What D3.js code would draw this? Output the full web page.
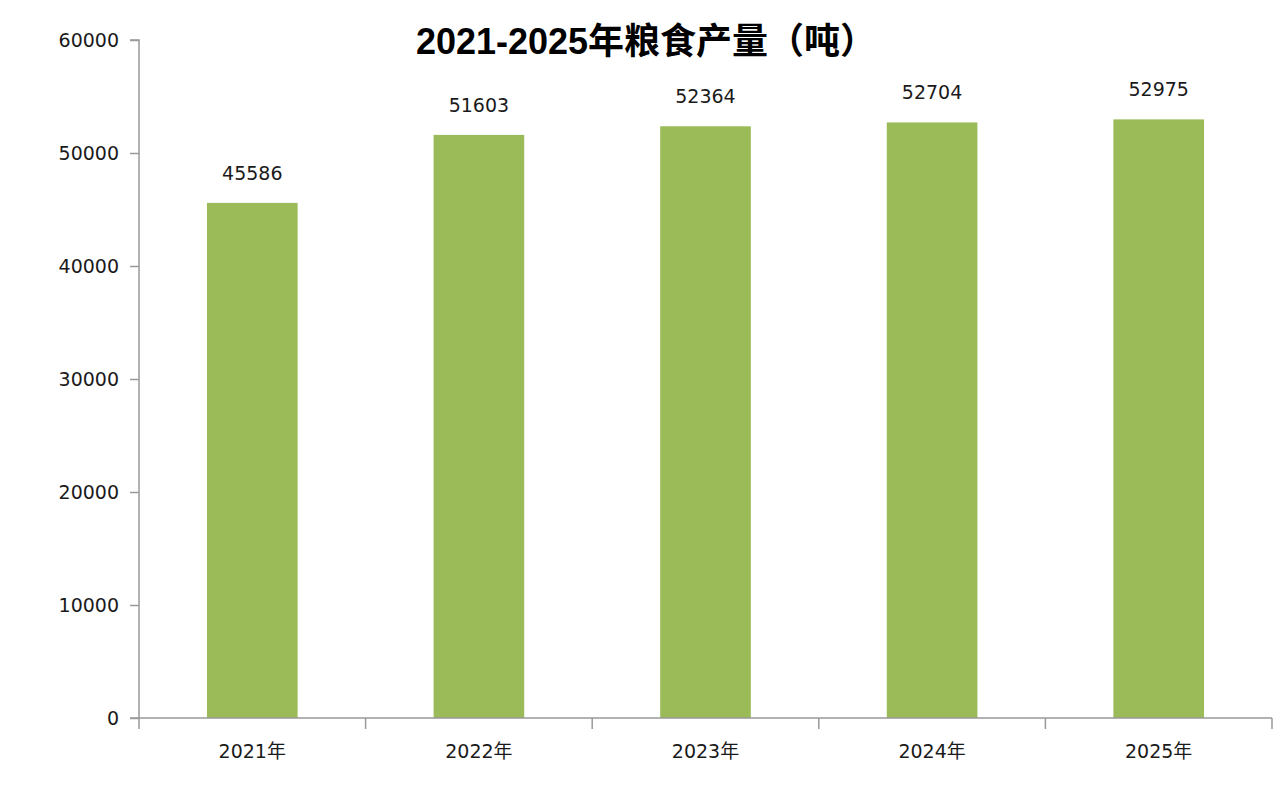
<!DOCTYPE html>
<html lang="zh">
    <head>
        <meta charset="utf-8">
        <title>2021-2025年粮食产量</title>
        <script src="https://d3js.org/d3.v7.min.js"></script>
        <style type="text/css">
         body { margin: 0; background: #fff; }
         text { font-family: "DejaVu Sans", "Noto Sans CJK SC", sans-serif; fill: #1a1a1a; }
        </style>
    </head>
    <body>
        <script>
         // Data
         var years = ["2021年", "2022年", "2023年", "2024年", "2025年"];
         var output = [45586, 51603, 52364, 52704, 52975];
         var yTicks = [0, 10000, 20000, 30000, 40000, 50000, 60000];

         var width = 1280, height = 809;
         var plotLeft = 139, plotRight = 1272, plotTop = 40, plotBottom = 718;

         var svg = d3.select("body").append("svg")
                     .attr("width", width)
                     .attr("height", height);

         var x = d3.scaleBand()
                   .domain(years)
                   .range([plotLeft, plotRight])
                   .paddingInner(0.6)
                   .paddingOuter(0.3);

         var y = d3.scaleLinear()
                   .domain([0, 60000])
                   .range([plotBottom, plotTop]);

         // Bars
         svg.selectAll("rect.bar")
            .data(output)
            .enter()
            .append("rect")
            .attr("class", "bar")
            .attr("x", function(d, i) { return x(years[i]); })
            .attr("y", function(d) { return y(d); })
            .attr("width", x.bandwidth())
            .attr("height", function(d) { return plotBottom - y(d); })
            .style("fill", "#9bbb59");

         // Value labels
         svg.selectAll("text.val")
            .data(output)
            .enter()
            .append("text")
            .attr("class", "val")
            .attr("x", function(d, i) { return x(years[i]) + x.bandwidth() / 2; })
            .attr("y", function(d) { return y(d) - 23; })
            .attr("text-anchor", "middle")
            .style("font-size", "19px")
            .text(function(d) { return d; });

         // Y axis
         var yAxis = svg.append("g")
                        .attr("transform", "translate(" + plotLeft + ",0)")
                        .call(d3.axisLeft(y).tickValues(yTicks).tickSize(9).tickPadding(11).tickFormat(d3.format("d")));
         yAxis.selectAll("text").style("font-size", "19px");

         // X axis: ticks on band edges
         var xAxis = svg.append("g")
                        .attr("transform", "translate(0," + plotBottom + ")");
         xAxis.append("line")
              .attr("x1", plotLeft).attr("x2", plotRight)
              .attr("y1", 0).attr("y2", 0);
         var step = (plotRight - plotLeft) / years.length;
         xAxis.selectAll("line.tick")
              .data(d3.range(years.length + 1))
              .enter()
              .append("line")
              .attr("class", "tick")
              .attr("x1", function(i) { return plotLeft + i * step; })
              .attr("x2", function(i) { return plotLeft + i * step; })
              .attr("y1", 0).attr("y2", 11);
         xAxis.selectAll("text")
              .data(years)
              .enter()
              .append("text")
              .attr("x", function(d) { return x(d) + x.bandwidth() / 2; })
              .attr("y", 40)
              .attr("text-anchor", "middle")
              .style("font-size", "19px")
              .text(function(d) { return d; });

         svg.selectAll(".domain, line").style("stroke", "#999").style("stroke-width", 1.5);
         yAxis.select(".domain").attr("d", "M-9," + plotTop + "H0V" + plotBottom + "H-9");

         // Title
         svg.append("text")
            .attr("x", 646)
            .attr("y", 54)
            .attr("text-anchor", "middle")
            .style("font-size", "36px")
            .style("font-weight", "bold")
            .style("font-family", "'Liberation Sans', 'Noto Sans CJK SC', sans-serif")
            .style("fill", "#000")
            .text("2021-2025年粮食产量（吨）");
        </script>
    </body>
</html>
